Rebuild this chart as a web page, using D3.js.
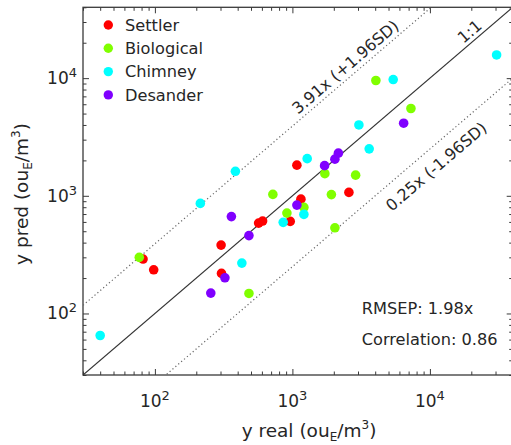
<!DOCTYPE html>
<html>
<head>
<meta charset="utf-8">
<script src="https://cdn.jsdelivr.net/npm/d3@7"></script>
<style>
  html, body { margin: 0; padding: 0; background: #fff; }
  svg { display: block; font-family: "DejaVu Sans", Verdana, sans-serif; }
</style>
</head>
<body>
<svg id="chart" width="511" height="445"></svg>
<script>
// ---------- data ----------
const seriesNames = ["Settler", "Biological", "Chimney", "Desander"];
const seriesColors = ["#ff0000", "#80ff00", "#00ffff", "#8000ff"];

const settlerReal = [82, 98, 303, 305, 568, 607, 964, 1153, 1078, 2576];
const settlerPred = [290, 235, 381, 219, 586, 610, 606, 937, 1822, 1069];

const biologicalReal = [77, 483, 721, 912, 1212, 1722, 1921, 2037, 2882, 4046, 7278];
const biologicalPred = [300, 148, 1028, 713, 797, 1543, 1024, 535, 1498, 9550, 5520];

const chimneyReal = [40, 214, 385, 429, 857, 1212, 1281, 3045, 3618, 5408, 30550];
const chimneyPred = [65, 862, 1615, 268, 595, 695, 2070, 3999, 2506, 9730, 15740];

const desanderReal = [255, 323, 360, 483, 1078, 1714, 2037, 2160, 6442];
const desanderPred = [149, 201, 666, 459, 834, 1804, 2049, 2304, 4141];

const axisDomain = [30, 40000];
const majorTicks = [100, 1000, 10000];
const majorTickExponents = ["2", "3", "4"];

const refFactors = [3.91, 1, 0.25];
const refLabels = ["3.91x (+1.96SD)", "1:1", "0.25x (-1.96SD)"];

const statsLines = ["RMSEP: 1.98x", "Correlation: 0.86"];
const xTitleParts = ["y real (ou", "E", "/m", "3", ")"];
const yTitleParts = ["y pred (ou", "E", "/m", "3", ")"];

// ---------- layout ----------
const plotLeft = 83, plotRight = 512.7, plotTop = 7.3, plotBottom = 375;
const textColor = "#262626";
const frameColor = "#3a3a3a";

const svg = d3.select("#chart");
const x = d3.scaleLog().domain(axisDomain).range([plotLeft, plotRight]);
const y = d3.scaleLog().domain(axisDomain).range([plotBottom, plotTop]);

// minor ticks: integer multiples of powers of ten within domain
const minorTicks = [];
for (let e = 1; e <= 4; e++) {
  for (let k = 2; k <= 9; k++) {
    const v = k * Math.pow(10, e);
    if (v >= axisDomain[0] && v <= axisDomain[1]) minorTicks.push(v);
  }
}

const majorLen = 6, minorLen = 3.5;

function styleAxis(g) {
  g.select(".domain").remove();
  g.selectAll("line").attr("stroke", frameColor).attr("stroke-width", 1);
  g.selectAll("text").remove();
}

function addTicks(axisFn, tx, ty) {
  svg.append("g").attr("transform", `translate(${tx},${ty})`)
    .call(axisFn(axisFn === d3.axisBottom || axisFn === d3.axisTop ? x : y)
      .tickValues(minorTicks).tickSize(-minorLen).tickFormat(""))
    .call(styleAxis);
  svg.append("g").attr("transform", `translate(${tx},${ty})`)
    .call(axisFn(axisFn === d3.axisBottom || axisFn === d3.axisTop ? x : y)
      .tickValues(majorTicks).tickSize(-majorLen).tickFormat(""))
    .call(styleAxis);
}
addTicks(d3.axisBottom, 0, plotBottom);
addTicks(d3.axisTop, 0, plotTop);
addTicks(d3.axisLeft, plotLeft, 0);
addTicks(d3.axisRight, plotRight, 0);

// frame
svg.append("rect")
  .attr("x", plotLeft).attr("y", plotTop)
  .attr("width", plotRight - plotLeft).attr("height", plotBottom - plotTop)
  .attr("fill", "none").attr("stroke", frameColor).attr("stroke-width", 1.3);

// tick labels
const tickFont = 17, supFont = 13;
majorTicks.forEach((v, i) => {
  const t = svg.append("text")
    .attr("x", x(v)).attr("y", plotBottom + 31.7)
    .attr("text-anchor", "middle").attr("fill", textColor)
    .attr("font-size", tickFont);
  t.append("tspan").text("10");
  t.append("tspan").attr("dy", -7).attr("font-size", supFont).text(majorTickExponents[i]);

  const u = svg.append("text")
    .attr("x", plotLeft - 6).attr("y", y(v) + 6)
    .attr("text-anchor", "end").attr("fill", textColor)
    .attr("font-size", tickFont);
  u.append("tspan").text("10");
  u.append("tspan").attr("dy", -7).attr("font-size", supFont).text(majorTickExponents[i]);
});

// axis titles
function addTitle(parts, tx, ty, rot) {
  const t = svg.append("text")
    .attr("transform", `translate(${tx},${ty}) rotate(${rot})`)
    .attr("text-anchor", "middle").attr("fill", textColor)
    .attr("font-size", 18.5);
  t.append("tspan").text(parts[0]);
  t.append("tspan").attr("dy", 4).attr("font-size", 12).text(parts[1]);
  t.append("tspan").attr("dy", -4).text(parts[2]);
  t.append("tspan").attr("dy", -8).attr("font-size", 12).text(parts[3]);
  t.append("tspan").attr("dy", 8).text(parts[4]);
}
addTitle(xTitleParts, 309, 437, 0);
addTitle(yTitleParts, 28, 194, -90);

// clip
svg.append("clipPath").attr("id", "plotclip")
  .append("rect").attr("x", plotLeft).attr("y", plotTop)
  .attr("width", plotRight - plotLeft).attr("height", plotBottom - plotTop);

const plot = svg.append("g").attr("clip-path", "url(#plotclip)");

// reference lines
const line = d3.line().x(d => x(d[0])).y(d => y(d[1]));
refFactors.forEach((f, i) => {
  const pts = [[axisDomain[0], axisDomain[0] * f], [axisDomain[1], axisDomain[1] * f]];
  plot.append("path").attr("d", line(pts))
    .attr("fill", "none")
    .attr("stroke", f === 1 ? "#333" : "#666")
    .attr("stroke-width", 1.2)
    .attr("stroke-dasharray", f === 1 ? null : "1.2,2.6");
});

// reference labels
const angle = Math.atan2(y(1000) - y(100), x(1000) - x(100)) * 180 / Math.PI;
const labelAnchorX = [2720, 21600, 9190];
const labelOffset = [-5, -4, 23];
refFactors.forEach((f, i) => {
  const ax = labelAnchorX[i];
  svg.append("text")
    .attr("transform", `translate(${x(ax)},${y(ax * f)}) rotate(${angle})`)
    .attr("y", labelOffset[i])
    .attr("text-anchor", "middle").attr("fill", textColor)
    .attr("font-size", 16)
    .text(refLabels[i]);
});

// points
const seriesReal = [settlerReal, biologicalReal, chimneyReal, desanderReal];
const seriesPred = [settlerPred, biologicalPred, chimneyPred, desanderPred];
seriesReal.forEach((xs, s) => {
  plot.append("g").selectAll("circle")
    .data(xs.map((v, j) => [v, seriesPred[s][j]]))
    .join("circle")
    .attr("cx", d => x(d[0])).attr("cy", d => y(d[1]))
    .attr("r", 4.8)
    .attr("fill", seriesColors[s]);
});

// legend
seriesNames.forEach((n, i) => {
  const ly = 25 + i * 23.3;
  svg.append("circle").attr("cx", 108.3).attr("cy", ly).attr("r", 4.7).attr("fill", seriesColors[i]);
  svg.append("text").attr("x", 125).attr("y", ly).attr("dy", "0.36em")
    .attr("font-size", 16.2).attr("fill", textColor).text(n);
});

// stats
statsLines.forEach((s, i) => {
  svg.append("text").attr("x", 361.7).attr("y", 314 + i * 31)
    .attr("font-size", 16.2).attr("fill", textColor).text(s);
});
</script>
</body>
</html>
